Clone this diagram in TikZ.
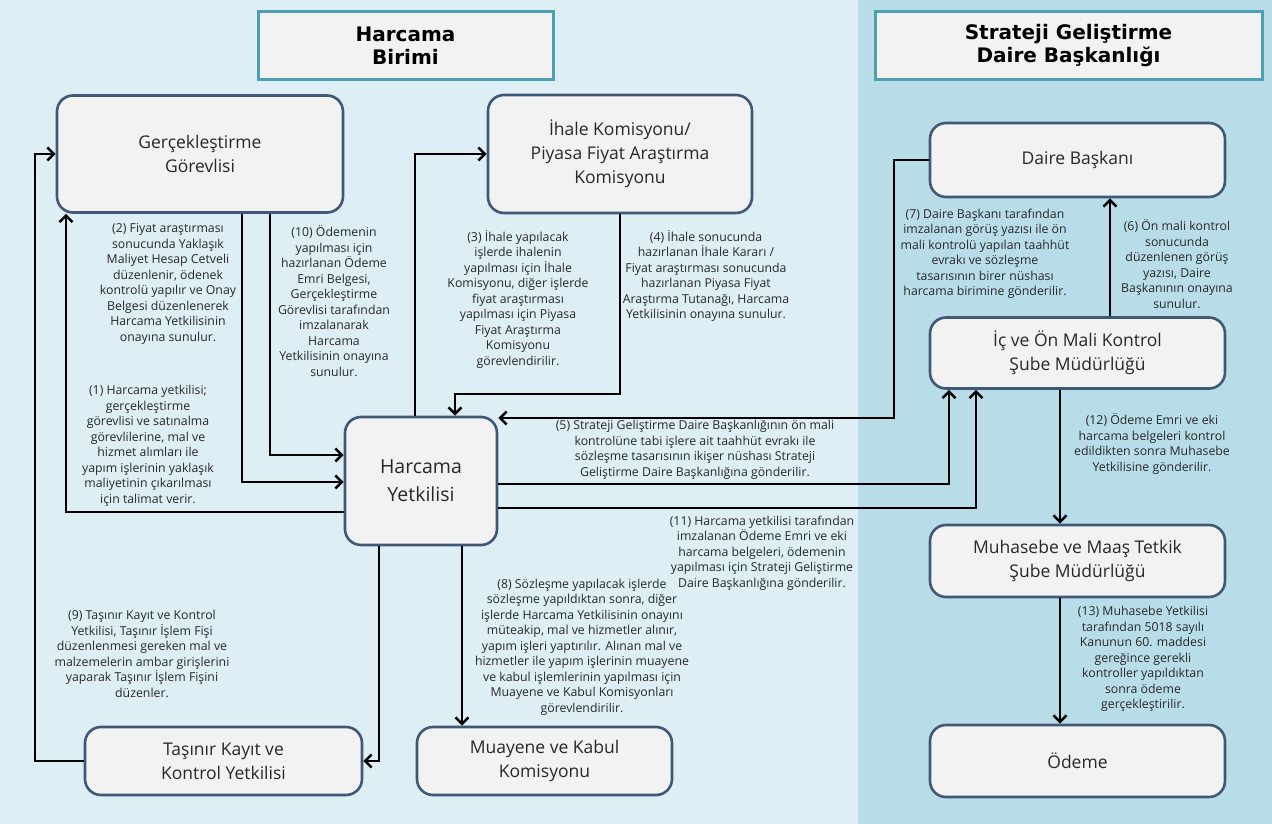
\documentclass[tikz,border=0pt]{standalone}
\usepackage{fontspec}
\setmainfont{Open Sans}
\newfontfamily\hdrfont{DejaVu Sans}
\usetikzlibrary{arrows.meta}
\definecolor{bgL}{RGB}{221,238,245}
\definecolor{bgR}{RGB}{184,221,232}
\definecolor{boxfill}{RGB}{242,242,242}
\definecolor{boxdraw}{RGB}{62,88,118}
\definecolor{hdrdraw}{RGB}{75,160,178}
\definecolor{txt}{RGB}{40,40,40}
\begin{document}
\begin{tikzpicture}[x=1pt,y=-1pt,
 box/.style={draw=boxdraw, line width=2.6pt, fill=boxfill, rounded corners=16pt, align=center, font=\fontsize{17.5}{24}\selectfont, text=txt, inner sep=0pt},
 hdr/.style={draw=hdrdraw, line width=3pt, fill=boxfill, align=center, font=\hdrfont\bfseries\fontsize{20}{23}\selectfont, inner sep=0pt},
 note/.style={align=center, font=\fontsize{12.3}{15.5}\selectfont, text=txt, inner sep=0pt},
 arr/.style={draw=black, line width=2.6pt, -{Straight Barb[length=6.5pt,width=13pt]}}
]
\fill[bgL] (0,0) rectangle (858,824);
\fill[bgR] (858,0) rectangle (1272,824);
\useasboundingbox (0,0) rectangle (1272,824);

\node[hdr, minimum width=295pt, minimum height=68pt] (h1) at (405.5,46) {Harcama\\Birimi};
\node[hdr, minimum width=387pt, minimum height=68pt] (h2) at (1068.5,46) {Strateji Geliştirme\\Daire Başkanlığı};

\node[box, minimum width=286pt, minimum height=117pt] (ger) at (200,154) {Gerçekleştirme\\Görevlisi};
\node[box, minimum width=264pt, minimum height=118pt] (ihale) at (620,154) {İhale Komisyonu/\\Piyasa Fiyat Araştırma\\Komisyonu};
\node[box, minimum width=295pt, minimum height=74pt] (daire) at (1077.5,160) {Daire Başkanı};
\node[box, minimum width=295pt, minimum height=71pt] (ic) at (1077.5,353) {İç ve Ön Mali Kontrol\\Şube Müdürlüğü};
\node[box, minimum width=152pt, minimum height=128pt, font=\fontsize{19.5}{28}\selectfont] (hy) at (421,481) {Harcama\\Yetkilisi};
\node[box, minimum width=295pt, minimum height=72pt] (muh) at (1077.5,561) {Muhasebe ve Maaş Tetkik\\Şube Müdürlüğü};
\node[box, minimum width=277pt, minimum height=68pt] (tas) at (223.5,761) {Taşınır Kayıt ve\\Kontrol Yetkilisi};
\node[box, minimum width=255pt, minimum height=68pt] (muay) at (544.5,761) {Muayene ve Kabul\\Komisyonu};
\node[box, minimum width=295pt, minimum height=72pt] (ode) at (1077.5,761) {Ödeme};

% connectors
\draw[arr] (tas.west) -- (35,761) |- (ger.west);
\draw[arr] (hy.west |- 0,512) -| (ger.south -| 66,0);
\draw[arr] (ger.south -| 242,0) |- (hy.west |- 0,482);
\draw[arr] (ger.south -| 270,0) |- (hy.west |- 0,455);
\draw[arr] (hy.north -| 415,0) |- (ihale.west);
\draw[arr] (ihale.south) |- (455,394) -- (hy.north -| 455,0);
\draw[arr] (daire.west) -| (894,418) -- (hy.east |- 0,418);
\draw[arr] (hy.east |- 0,484) -| (ic.south -| 949,0);
\draw[arr] (hy.east |- 0,508) -| (ic.south -| 976,0);
\draw[arr] (ic.north -| 1110,0) -- (daire.south -| 1110,0);
\draw[arr] (ic.south -| 1060,0) -- (muh.north -| 1060,0);
\draw[arr] (muh.south -| 1060,0) -- (ode.north -| 1060,0);
\draw[arr] (hy.south -| 379,0) |- (tas.east);
\draw[arr] (hy.south -| 462,0) -- (muay.north -| 462,0);

% notes
\node[note] (n1) at (148,446) {(1) Harcama yetkilisi;\\gerçekleştirme\\görevlisi ve satınalma\\görevlilerine, mal ve\\hizmet alımları ile\\yapım işlerinin yaklaşık\\maliyetinin çıkarılması\\için talimat verir.};
\node[note] (n2) at (168,284) {(2) Fiyat araştırması\\sonucunda Yaklaşık\\Maliyet Hesap Cetveli\\düzenlenir, ödenek\\kontrolü yapılır ve Onay\\Belgesi düzenlenerek\\Harcama Yetkilisinin\\onayına sunulur.};
\node[note] (n10) at (334,301) {(10) Ödemenin\\yapılması için\\hazırlanan Ödeme\\Emri Belgesi,\\Gerçekleştirme\\Görevlisi tarafından\\imzalanarak\\Harcama\\Yetkilisinin onayına\\sunulur.};
\node[note] (n3) at (518,299) {(3) İhale yapılacak\\işlerde ihalenin\\yapılması için İhale\\Komisyonu, diğer işlerde\\fiyat araştırması\\yapılması için Piyasa\\Fiyat Araştırma\\Komisyonu\\görevlendirilir.};
\node[note] (n4) at (706,276) {(4) İhale sonucunda\\hazırlanan İhale Kararı /\\Fiyat araştırması sonucunda\\hazırlanan Piyasa Fiyat\\Araştırma Tutanağı, Harcama\\Yetkilisinin onayına sunulur.};
\node[note] (n5) at (695,450) {(5) Strateji Geliştirme Daire Başkanlığının ön mali\\kontrolüne tabi işlere ait taahhüt evrakı ile\\sözleşme tasarısının ikişer nüshası Strateji\\Geliştirme Daire Başkanlığına gönderilir.};
\node[note] (n11) at (762,553) {(11) Harcama yetkilisi tarafından\\imzalanan Ödeme Emri ve eki\\harcama belgeleri, ödemenin\\yapılması için Strateji Geliştirme\\Daire Başkanlığına gönderilir.};
\node[note] (n7) at (985,254) {(7) Daire Başkanı tarafından\\imzalanan görüş yazısı ile ön\\mali kontrolü yapılan taahhüt\\evrakı ve sözleşme\\tasarısının birer nüshası\\harcama birimine gönderilir.};
\node[note] (n6) at (1177,264) {(6) Ön mali kontrol\\sonucunda\\düzenlenen görüş\\yazısı, Daire\\Başkanının onayına\\sunulur.};
\node[note] (n12) at (1152,444) {(12) Ödeme Emri ve eki\\harcama belgeleri kontrol\\edildikten sonra Muhasebe\\Yetkilisine gönderilir.};
\node[note] (n13) at (1143,659) {(13) Muhasebe Yetkilisi\\tarafından 5018 sayılı\\Kanunun 60. maddesi\\gereğince gerekli\\kontroller yapıldıktan\\sonra ödeme\\gerçekleştirilir.};
\node[note] (n8) at (582,647) {(8) Sözleşme yapılacak işlerde\\sözleşme yapıldıktan sonra, diğer\\işlerde Harcama Yetkilisinin onayını\\müteakip, mal ve hizmetler alınır,\\yapım işleri yaptırılır. Alınan mal ve\\hizmetler ile yapım işlerinin muayene\\ve kabul işlemlerinin yapılması için\\Muayene ve Kabul Komisyonları\\görevlendirilir.};
\node[note] (n9) at (142,654) {(9) Taşınır Kayıt ve Kontrol\\Yetkilisi, Taşınır İşlem Fişi\\düzenlenmesi gereken mal ve\\malzemelerin ambar girişlerini\\yaparak Taşınır İşlem Fişini\\düzenler.};
\end{tikzpicture}
\end{document}
